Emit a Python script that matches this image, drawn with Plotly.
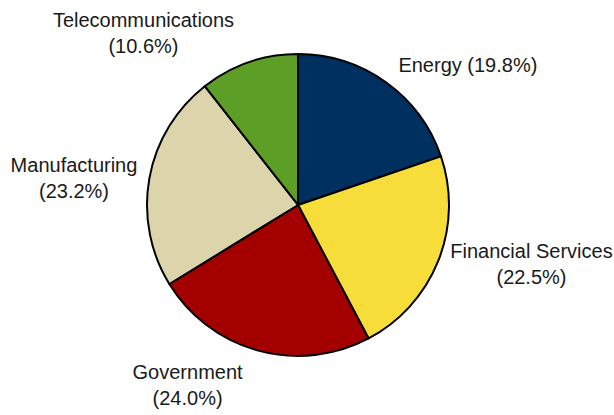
import plotly.graph_objects as go

# Share of revenue by sector (percent)
sectors = ["Energy", "Financial Services", "Government", "Manufacturing", "Telecommunications"]
shares = [19.8, 22.5, 24.0, 23.2, 10.6]
colors = ["#00305f", "#f7dd3a", "#a30000", "#dcd5ac", "#5c9e26"]
# Energy label sits on a single line; the rest wrap the percentage below
separators = [" ", "<br>", "<br>", "<br>", "<br>"]
# Which ring carries each label: 0 = the pie itself, 1 = outer ring, 2 = top ring
label_ring = [1, 0, 1, 0, 2]

labels_text = [f"{s}{sep}({v:.1f}%)" for s, v, sep in zip(sectors, shares, separators)]
label_font = dict(family="Liberation Sans, Arial, sans-serif", size=20, color="#1a1a1a")

common = dict(
    labels=sectors,
    values=shares,
    sort=False,
    direction="clockwise",
    rotation=0,
    showlegend=False,
    automargin=False,
    text=labels_text,
    textinfo="text",
    textfont=label_font,
)


def positions(ring):
    return ["outside" if r == ring else "none" for r in label_ring]


fig = go.Figure()

# Invisible rings slightly wider than the pie, carrying the top/bottom labels
for ring, dom in [
    (1, dict(x=[0.2199, 0.7508], y=[0.1133, 0.8988])),
    (2, dict(x=[0.2264, 0.7443], y=[0.1229, 0.8892])),
]:
    fig.add_trace(
        go.Pie(
            **common,
            textposition=positions(ring),
            marker=dict(colors=["rgba(0,0,0,0)"] * len(sectors), line=dict(width=0)),
            domain=dom,
            hoverinfo="skip",
        )
    )

# The visible pie, carrying the side labels
fig.add_trace(
    go.Pie(
        **common,
        textposition=positions(0),
        marker=dict(colors=colors, line=dict(color="#000000", width=2)),
        domain=dict(x=[0.2394, 0.7313], y=[0.1422, 0.8699]),
        hoverinfo="label+percent",
    )
)

fig.update_layout(
    width=614,
    height=415,
    margin=dict(l=0, r=0, t=0, b=0, autoexpand=False),
    paper_bgcolor="white",
    plot_bgcolor="white",
)

fig.write_html("out.html")
